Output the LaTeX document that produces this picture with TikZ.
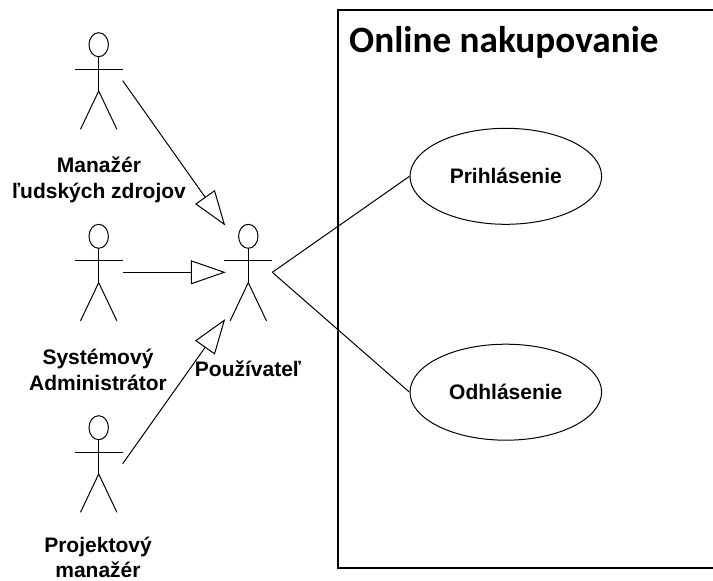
\documentclass[tikz,border=0pt]{standalone}
\usepackage{fontspec}
\setmainfont{Liberation Sans}
\newfontfamily\titlefont{Carlito}
\usetikzlibrary{arrows.meta,shapes.geometric}
\tikzset{
  thinline/.style={draw=black,line width=1pt},
  head/.style={ellipse,draw=black,line width=1pt,minimum width=19.4pt,minimum height=24pt,inner sep=0pt},
  usecase/.style={ellipse,draw=black,line width=1pt,minimum width=191.6pt,minimum height=96pt,inner sep=0pt,
    font=\bfseries\fontsize{21}{25}\selectfont},
  actorlabel/.style={align=center,inner sep=0pt,font=\bfseries\fontsize{21}{25.5}\selectfont},
  generalize/.style={thinline,shorten >=-1.5pt,-{Triangle[open,length=35pt,width=24pt,fill=white]}},
  assoc/.style={thinline},
  frame/.style={draw=black,line width=2pt},
  frametitle/.style={inner sep=0pt,anchor=base west,font=\titlefont\bfseries\fontsize{37.2}{40}\selectfont}
}
\newcommand{\actorfig}[3]{%
  \begin{scope}[shift={(#2,#3)}]
    \node[head] (#1) at (0,0) {};
    \coordinate (#1-hip) at (0,46.3);
    \coordinate (#1-nw) at (-24,-12);
    \coordinate (#1-w) at (-24,24.3);
    \coordinate (#1-sw) at (-24,84);
    \coordinate (#1-e) at (24,24.3);
    \coordinate (#1-hand) at (24,36);
    \coordinate (#1-tip) at (-24,36);
    \coordinate (#1-out) at (24,36);
    \draw[thinline] (#1.south) -- (#1-hip);
    \draw[thinline] (#1-w) -- (#1-e);
    \draw[thinline] (-18.2,84.6) -- (#1-hip) -- (18.2,84.6);
  \end{scope}}
\begin{document}
\begin{tikzpicture}[x=1pt,y=-1pt]
\useasboundingbox (0,0) rectangle (713,581);
\fill[white] (0,0) rectangle (713,581);
\coordinate (fr-tr) at (713,9.5);
\coordinate (fr-tl) at (338,9.5);
\coordinate (fr-bl) at (338,568);
\coordinate (fr-br) at (713,568);
\draw[frame] (fr-tr) -- (fr-tl) -- (fr-bl) -- (fr-br);
\node[frametitle] (title) at (349,52) {Online nakupovanie};
\actorfig{hr}{98.7}{44.7}
\actorfig{admin}{98.7}{236.3}
\actorfig{pm}{98.7}{427.7}
\actorfig{user}{248.3}{236.3}
\node[actorlabel] (hrl) at (99,180) {Manažér\\ľudských zdrojov};
\node[actorlabel] (adminl) at (98,370) {Systémový\\Administrátor};
\node[actorlabel] (pml) at (98,557.5) {Projektový\\manažér};
\node[actorlabel] (userl) at (248,369) {Používateľ};
\node[usecase] (login) at (505.8,176.3) {Prihlásenie};
\node[usecase] (logout) at (505.8,392.2) {Odhlásenie};
\draw[generalize] (hr-hand) -- (user-nw);
\draw[generalize] (admin-hand) -- (user-tip);
\draw[generalize] (pm-hand) -- (user-sw);
\draw[assoc] (user-out) -- (login.west);
\draw[assoc] (user-out) -- (logout.west);
\end{tikzpicture}
\end{document}
